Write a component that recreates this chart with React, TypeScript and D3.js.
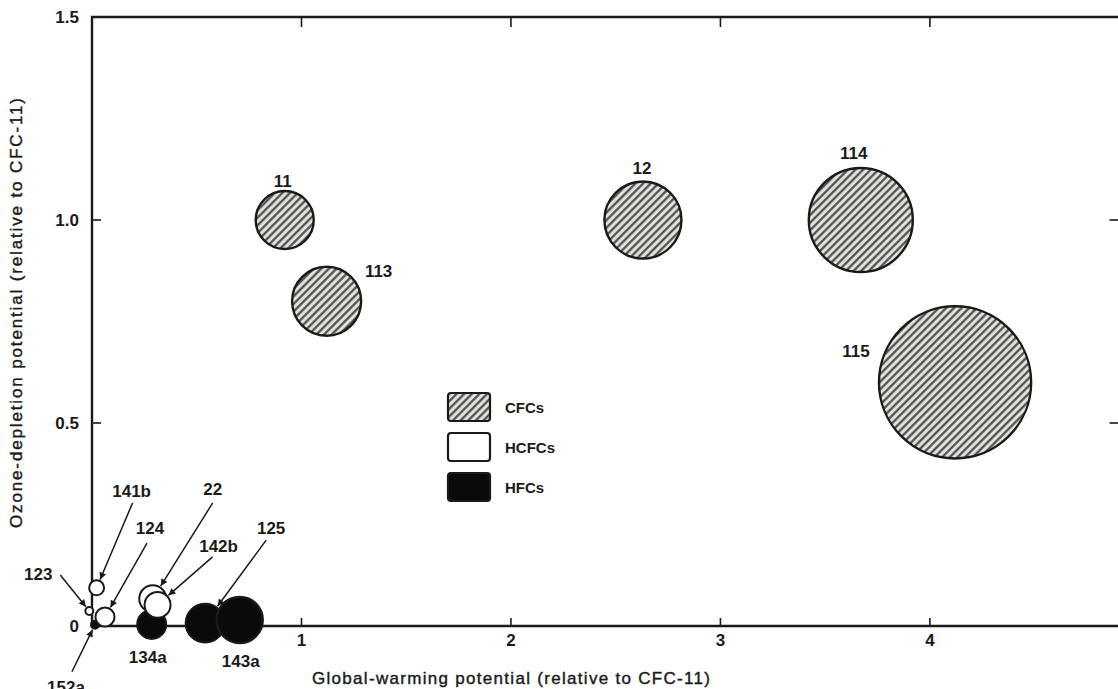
import React, { useEffect, useRef } from "react";
import * as d3 from "d3";

// compounds
const names = ["11", "113", "12", "114", "115", "152a", "134a", "125", "143a", "123", "141b", "124", "22", "142b"];
const groups = ["CFC", "CFC", "CFC", "CFC", "CFC", "HFC", "HFC", "HFC", "HFC", "HCFC", "HCFC", "HCFC", "HCFC", "HCFC"];
// global-warming potential (relative to CFC-11)
const gwp = [0.92, 1.12, 2.63, 3.67, 4.12, 0.014, 0.285, 0.54, 0.705, -0.013, 0.022, 0.062, 0.29, 0.313];
// ozone-depletion potential (relative to CFC-11)
const odp = [1.0, 0.8, 1.0, 1.0, 0.6, 0.003, 0.004, 0.007, 0.015, 0.037, 0.094, 0.022, 0.067, 0.052];
// bubble area ~ atmospheric lifetime (years)
const lifetime = [60, 85, 106, 193, 413, 1.1, 15, 27, 38, 1.1, 4, 6.5, 13, 12];

const xTicks = [1, 2, 3, 4];
const yTicks = [0, 0.5, 1.0, 1.5];
const yTickLabels = ["0", "0.5", "1.0", "1.5"];
const legendGroups = ["CFC", "HCFC", "HFC"];
const legendLabels = ["CFCs", "HCFCs", "HFCs"];

// label placement in px from the bubble centre; a = start of leader arrow
const labelPos = {
  "11": { dx: -2, dy: -33 },
  "113": { dx: 52, dy: -24 },
  "12": { dx: -1, dy: -46 },
  "114": { dx: -7, dy: -61 },
  "115": { dx: -99, dy: -25 },
  "134a": { dx: -4, dy: 39 },
  "143a": { dx: 1, dy: 47 },
  "141b": { dx: 35, dy: -91, ax: 36, ay: -85 },
  "124": { dx: 45, dy: -83, ax: 42, ay: -74 },
  "22": { dx: 60, dy: -104, ax: 60, ay: -96 },
  "142b": { dx: 61, dy: -53, ax: 55, ay: -48 },
  "125": { dx: 66, dy: -89, ax: 61, ay: -83 },
  "123": { dx: -51, dy: -31, ax: -29, ay: -36 },
  "152a": { dx: -29, dy: 68, ax: -23, ay: 47 },
};

const App = () => {
  const svgRef = useRef(null);
  const width = 1118;
  const height = 689;
  const font = "'Liberation Sans', Arial, sans-serif";
  const ink = "#1a1a1a";

  useEffect(() => {
    const svg = d3.select(svgRef.current);
    svg.selectAll("*").remove();

    const x = d3.scaleLinear().domain([0, 4.905]).range([92, 1119.5]);
    const y = d3.scaleLinear().domain([0, 1.5]).range([626, 17]);
    const r = d3.scaleSqrt().domain([0, 60]).range([0, 29]);

    const defs = svg.append("defs");
    const pat = defs
      .append("pattern")
      .attr("id", "hatch")
      .attr("patternUnits", "userSpaceOnUse")
      .attr("width", 5.4)
      .attr("height", 5.4)
      .attr("patternTransform", "rotate(45)");
    pat.append("rect").attr("width", 5.4).attr("height", 5.4).attr("fill", "#e4e2dc");
    pat
      .append("line")
      .attr("x1", 1.3)
      .attr("x2", 1.3)
      .attr("y1", 0)
      .attr("y2", 5.4)
      .attr("stroke", "#4a4a4a")
      .attr("stroke-width", 2.2);

    defs
      .append("marker")
      .attr("id", "arrow")
      .attr("viewBox", "0 0 10 10")
      .attr("refX", 10)
      .attr("refY", 5)
      .attr("markerWidth", 9)
      .attr("markerHeight", 7)
      .attr("markerUnits", "userSpaceOnUse")
      .attr("orient", "auto")
      .append("path")
      .attr("d", "M0,0L10,5L0,10Z")
      .attr("fill", ink);

    const fillFor = (g) => (g === "CFC" ? "url(#hatch)" : g === "HFC" ? "#0a0a0a" : "#fff");

    // frame
    const [x0, x1] = x.range();
    const [yb, yt] = y.range();
    svg
      .append("path")
      .attr("d", `M${x1},${yt}H${x0}V${yb}H${x1}V${yt}`)
      .attr("fill", "none")
      .attr("stroke", ink)
      .attr("stroke-width", 2.4);

    // ticks
    const tickG = svg.append("g").attr("stroke", ink).attr("stroke-width", 1.6);
    xTicks.forEach((t) => {
      tickG.append("line").attr("x1", x(t)).attr("x2", x(t)).attr("y1", yt).attr("y2", yt + 10);
      tickG.append("line").attr("x1", x(t)).attr("x2", x(t)).attr("y1", yb).attr("y2", yb - 8);
    });
    yTicks.slice(1, 3).forEach((t) => {
      tickG.append("line").attr("x1", x0).attr("x2", x0 + 9).attr("y1", y(t)).attr("y2", y(t));
      tickG.append("line").attr("x1", x1).attr("x2", x1 - 10).attr("y1", y(t)).attr("y2", y(t));
    });

    const txt = svg
      .append("g")
      .attr("font-family", font)
      .attr("font-weight", "bold")
      .attr("fill", ink);

    txt
      .selectAll("text.xt")
      .data(xTicks)
      .join("text")
      .attr("class", "xt")
      .attr("x", (d) => x(d))
      .attr("y", 646)
      .attr("text-anchor", "middle")
      .attr("font-size", 17)
      .text((d) => d);

    txt
      .selectAll("text.yt")
      .data(yTicks)
      .join("text")
      .attr("class", "yt")
      .attr("x", 79)
      .attr("y", (d) => y(d) + 6)
      .attr("text-anchor", "end")
      .attr("font-size", 17)
      .text((d, i) => yTickLabels[i]);

    txt
      .append("text")
      .attr("x", 511)
      .attr("y", 684)
      .attr("text-anchor", "middle")
      .attr("font-size", 17)
      .attr("font-weight", "normal")
      .attr("stroke", ink)
      .attr("stroke-width", 0.4)
      .attr("textLength", 398)
      .attr("lengthAdjust", "spacing")
      .text("Global-warming potential (relative to CFC-11)");

    txt
      .append("text")
      .attr("transform", "translate(22, 313) rotate(-90)")
      .attr("text-anchor", "middle")
      .attr("font-size", 17)
      .attr("font-weight", "normal")
      .attr("stroke", ink)
      .attr("stroke-width", 0.4)
      .attr("textLength", 430)
      .attr("lengthAdjust", "spacing")
      .text("Ozone-depletion potential (relative to CFC-11)");

    // bubbles
    const pts = names.map((n, i) => ({
      name: n,
      group: groups[i],
      cx: x(gwp[i]),
      cy: y(odp[i]),
      rad: r(lifetime[i]),
    }));

    svg
      .append("g")
      .selectAll("circle")
      .data(pts)
      .join("circle")
      .attr("cx", (d) => d.cx)
      .attr("cy", (d) => d.cy)
      .attr("r", (d) => d.rad)
      .attr("fill", (d) => fillFor(d.group))
      .attr("stroke", ink)
      .attr("stroke-width", (d) => (d.rad > 20 ? 2.4 : 2));

    // leader arrows
    const arrows = pts.filter((d) => labelPos[d.name].ax !== undefined);
    svg
      .append("g")
      .selectAll("line")
      .data(arrows)
      .join("line")
      .attr("x1", (d) => d.cx + labelPos[d.name].ax)
      .attr("y1", (d) => d.cy + labelPos[d.name].ay)
      .attr("x2", (d) => {
        const p = labelPos[d.name];
        const len = Math.hypot(p.ax, p.ay);
        return d.cx + (p.ax / len) * (d.rad + 1.5);
      })
      .attr("y2", (d) => {
        const p = labelPos[d.name];
        const len = Math.hypot(p.ax, p.ay);
        return d.cy + (p.ay / len) * (d.rad + 1.5);
      })
      .attr("stroke", ink)
      .attr("stroke-width", 1.5)
      .attr("marker-end", "url(#arrow)");

    txt
      .selectAll("text.lab")
      .data(pts)
      .join("text")
      .attr("class", "lab")
      .attr("x", (d) => d.cx + labelPos[d.name].dx)
      .attr("y", (d) => d.cy + labelPos[d.name].dy)
      .attr("text-anchor", "middle")
      .attr("font-size", 17)
      .text((d) => d.name);

    // legend
    const leg = svg.append("g").attr("transform", "translate(448, 393)");
    legendGroups.forEach((g, i) => {
      leg
        .append("rect")
        .attr("x", 0)
        .attr("y", i * 40)
        .attr("width", 42)
        .attr("height", 28)
        .attr("rx", 3)
        .attr("fill", fillFor(g))
        .attr("stroke", ink)
        .attr("stroke-width", 2.2);
      leg
        .append("text")
        .attr("x", 57)
        .attr("y", i * 40 + 20)
        .attr("font-family", font)
        .attr("font-weight", "bold")
        .attr("font-size", 15)
        .attr("fill", ink)
        .text(legendLabels[i]);
    });
  }, []);

  return (
    <svg
      ref={svgRef}
      width={width}
      height={height}
      style={{ position: "absolute", left: 0, top: 0, background: "#fff" }}
    ></svg>
  );
};

export default App;
